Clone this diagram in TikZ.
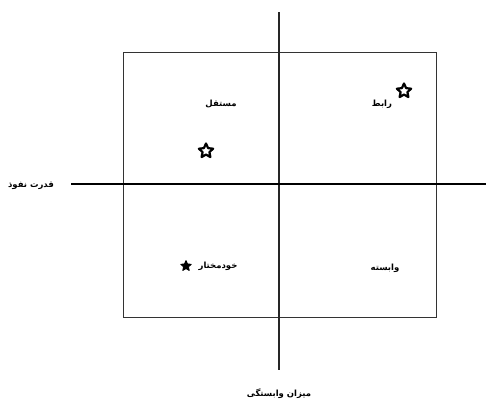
\documentclass[tikz,border=0pt]{standalone}
\usepackage{fontspec}
\usetikzlibrary{shapes.geometric}
\TeXXeTstate=1
\newfontfamily\arabicfont[Script=Arabic]{DejaVu Sans}
\tikzset{
  lbl/.style={font=\arabicfont\bfseries\fontsize{8.5}{10}\selectfont, inner sep=0pt},
  hollowstar/.style={star, star points=5, star point ratio=2.1, draw=black,
    line width=2.2pt, line join=round, minimum size=15pt, inner sep=0pt},
  solidstar/.style={star, star points=5, star point ratio=2.1, fill=black,
    draw=black, line width=0.8pt, line join=round, minimum size=11pt, inner sep=0pt},
  frame/.style={draw=black!80, line width=1pt},
  vaxis/.style={draw=black!85, line width=1.3pt},
  haxis/.style={draw=black, line width=2.6pt}
}
\begin{document}
\begin{tikzpicture}[x=1pt, y=-1pt]
  \useasboundingbox (0,0) rectangle (486,408);
  % quadrant frame
  \draw[frame] (123,52) rectangle (436,317);
  % axes
  \coordinate (vtop) at (279,12);
  \coordinate (vbot) at (279,370);
  \coordinate (hleft) at (71,184);
  \coordinate (hright) at (486,184);
  \draw[vaxis] (vtop) -- (vbot);
  \draw[haxis] (hleft) -- (hright);
  % axis labels
  \node[lbl] (power) at (31,186) {\beginR قدرت نفوذ\endR};
  \node[lbl] (depend) at (279,394) {\beginR میزان وابستگی\endR};
  % quadrant labels
  \node[lbl] (indep) at (221,104) {\beginR مستقل\endR};
  \node[lbl] (link) at (382,104) {\beginR رابط\endR};
  \node[lbl] (auto) at (218,266) {\beginR خودمختار\endR};
  \node[lbl] (dep) at (385,268) {\beginR وابسته\endR};
  % markers
  \node[hollowstar] (s1) at (206,151) {};
  \node[hollowstar] (s2) at (404,91) {};
  \node[solidstar] (s3) at (186,266) {};
\end{tikzpicture}
\end{document}
